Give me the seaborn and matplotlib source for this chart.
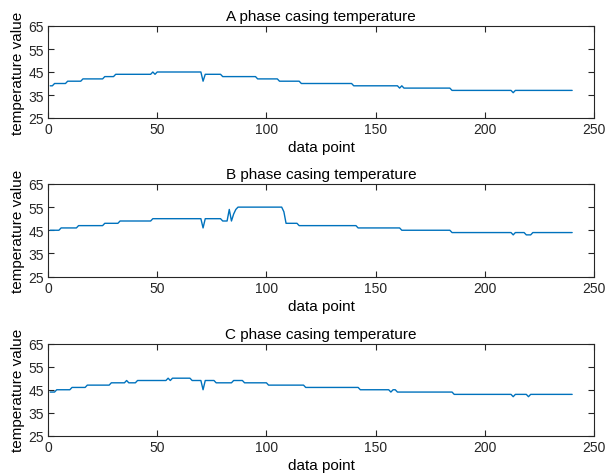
import numpy as np
import pandas as pd
import matplotlib
matplotlib.use("Agg")
import matplotlib.pyplot as plt
import seaborn as sns

# ---------------- data ----------------
titles = ["A phase casing temperature", "B phase casing temperature", "C phase casing temperature"]
x_ticks = [0, 50, 100, 150, 200, 250]
y_ticks = [25, 35, 45, 55, 65]

phase_a = [
    39, 39, 40, 40, 40, 40, 40, 40, 41, 41, 41, 41, 41, 41, 41, 42, 42, 42, 42, 42,
    42, 42, 42, 42, 42, 43, 43, 43, 43, 43, 44, 44, 44, 44, 44, 44, 44, 44, 44, 44,
    44, 44, 44, 44, 44, 44, 44, 45, 44, 45, 45, 45, 45, 45, 45, 45, 45, 45, 45, 45,
    45, 45, 45, 45, 45, 45, 45, 45, 45, 45, 41, 44, 44, 44, 44, 44, 44, 44, 44, 43,
    43, 43, 43, 43, 43, 43, 43, 43, 43, 43, 43, 43, 43, 43, 43, 42, 42, 42, 42, 42,
    42, 42, 42, 42, 42, 41, 41, 41, 41, 41, 41, 41, 41, 41, 41, 40, 40, 40, 40, 40,
    40, 40, 40, 40, 40, 40, 40, 40, 40, 40, 40, 40, 40, 40, 40, 40, 40, 40, 40, 39,
    39, 39, 39, 39, 39, 39, 39, 39, 39, 39, 39, 39, 39, 39, 39, 39, 39, 39, 39, 39,
    38, 39, 38, 38, 38, 38, 38, 38, 38, 38, 38, 38, 38, 38, 38, 38, 38, 38, 38, 38,
    38, 38, 38, 38, 37, 37, 37, 37, 37, 37, 37, 37, 37, 37, 37, 37, 37, 37, 37, 37,
    37, 37, 37, 37, 37, 37, 37, 37, 37, 37, 37, 37, 36, 37, 37, 37, 37, 37, 37, 37,
    37, 37, 37, 37, 37, 37, 37, 37, 37, 37, 37, 37, 37, 37, 37, 37, 37, 37, 37, 37,
]

phase_b = [
    45, 45, 45, 45, 45, 46, 46, 46, 46, 46, 46, 46, 46, 47, 47, 47, 47, 47, 47, 47,
    47, 47, 47, 47, 47, 48, 48, 48, 48, 48, 48, 48, 49, 49, 49, 49, 49, 49, 49, 49,
    49, 49, 49, 49, 49, 49, 49, 50, 50, 50, 50, 50, 50, 50, 50, 50, 50, 50, 50, 50,
    50, 50, 50, 50, 50, 50, 50, 50, 50, 50, 46, 50, 50, 50, 50, 50, 50, 50, 50, 49,
    49, 49, 54, 49, 52, 54, 55, 55, 55, 55, 55, 55, 55, 55, 55, 55, 55, 55, 55, 55,
    55, 55, 55, 55, 55, 55, 55, 53, 48, 48, 48, 48, 48, 48, 47, 47, 47, 47, 47, 47,
    47, 47, 47, 47, 47, 47, 47, 47, 47, 47, 47, 47, 47, 47, 47, 47, 47, 47, 47, 47,
    47, 46, 46, 46, 46, 46, 46, 46, 46, 46, 46, 46, 46, 46, 46, 46, 46, 46, 46, 46,
    46, 45, 45, 45, 45, 45, 45, 45, 45, 45, 45, 45, 45, 45, 45, 45, 45, 45, 45, 45,
    45, 45, 45, 45, 44, 44, 44, 44, 44, 44, 44, 44, 44, 44, 44, 44, 44, 44, 44, 44,
    44, 44, 44, 44, 44, 44, 44, 44, 44, 44, 44, 44, 43, 44, 44, 44, 44, 44, 43, 43,
    43, 44, 44, 44, 44, 44, 44, 44, 44, 44, 44, 44, 44, 44, 44, 44, 44, 44, 44, 44,
]

phase_c = [
    44, 44, 44, 45, 45, 45, 45, 45, 45, 45, 46, 46, 46, 46, 46, 46, 46, 47, 47, 47,
    47, 47, 47, 47, 47, 47, 47, 47, 48, 48, 48, 48, 48, 48, 48, 49, 48, 48, 48, 48,
    49, 49, 49, 49, 49, 49, 49, 49, 49, 49, 49, 49, 49, 49, 50, 49, 50, 50, 50, 50,
    50, 50, 50, 50, 50, 49, 49, 49, 49, 49, 45, 49, 49, 49, 49, 49, 48, 48, 48, 48,
    48, 48, 48, 48, 49, 49, 49, 49, 49, 48, 48, 48, 48, 48, 48, 48, 48, 48, 48, 48,
    47, 47, 47, 47, 47, 47, 47, 47, 47, 47, 47, 47, 47, 47, 47, 47, 47, 46, 46, 46,
    46, 46, 46, 46, 46, 46, 46, 46, 46, 46, 46, 46, 46, 46, 46, 46, 46, 46, 46, 46,
    46, 46, 45, 45, 45, 45, 45, 45, 45, 45, 45, 45, 45, 45, 45, 45, 44, 45, 45, 44,
    44, 44, 44, 44, 44, 44, 44, 44, 44, 44, 44, 44, 44, 44, 44, 44, 44, 44, 44, 44,
    44, 44, 44, 44, 44, 43, 43, 43, 43, 43, 43, 43, 43, 43, 43, 43, 43, 43, 43, 43,
    43, 43, 43, 43, 43, 43, 43, 43, 43, 43, 43, 43, 42, 43, 43, 43, 43, 43, 43, 42,
    43, 43, 43, 43, 43, 43, 43, 43, 43, 43, 43, 43, 43, 43, 43, 43, 43, 43, 43, 43,
]

series = [phase_a, phase_b, phase_c]
data_index = np.arange(1, len(phase_a) + 1)

# ---------------- style ----------------
sns.set_style("ticks")
plt.rcParams["font.family"] = ["Liberation Sans", "DejaVu Sans"]
axis_color = "#262626"
line_color = "#0072BD"

fig = plt.figure(figsize=(6.06, 4.77), dpi=100)
W, H = 606, 477
boxes = [(48, 27, 594, 119), (48, 185, 594, 277.5), (48, 344.5, 594, 437)]

for (l, t, r, b), title, vals in zip(boxes, titles, series):
    ax = fig.add_axes([l / W, 1 - b / H, (r - l) / W, (b - t) / H])
    df = pd.DataFrame({"data point": data_index, "temperature value": vals})
    sns.lineplot(data=df, x="data point", y="temperature value", ax=ax,
                 color=line_color, linewidth=1.0)
    ax.set_xlim(0, 250)
    ax.set_ylim(25, 65)
    ax.set_xticks(x_ticks)
    ax.set_yticks(y_ticks)
    ax.tick_params(direction="in", length=4, width=0.8, top=True, right=True,
                   labelsize=10, colors=axis_color, pad=3)
    for s in ax.spines.values():
        s.set_visible(True)
        s.set_color(axis_color)
        s.set_linewidth(0.8)
    ax.set_title(title, fontsize=11, color="black", pad=4)
    ax.set_xlabel("data point", fontsize=11, color="black", labelpad=3)
    ax.set_ylabel("temperature value", fontsize=11, color="black", labelpad=2)
    ax.set_facecolor("white")

fig.savefig("out.png", dpi=100, facecolor="white")
